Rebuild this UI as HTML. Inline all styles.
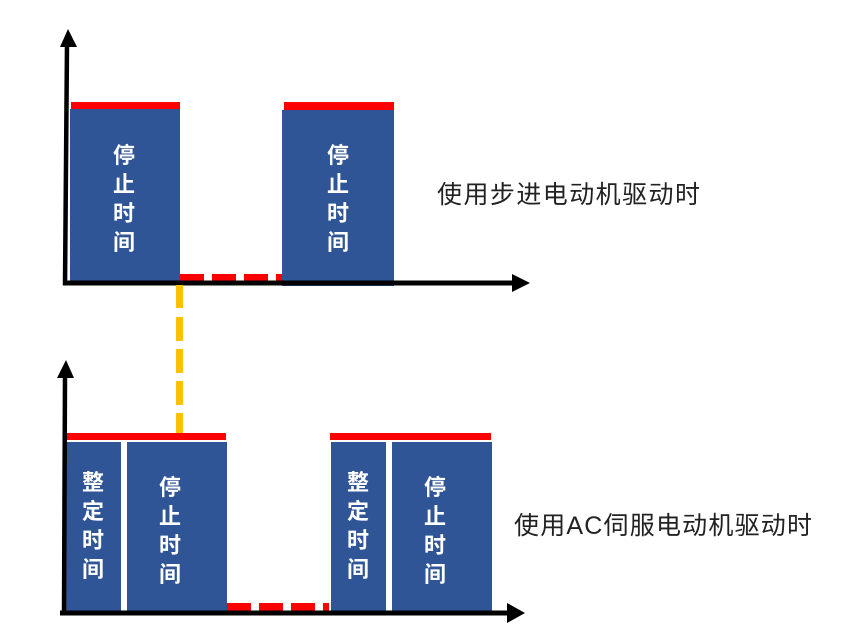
<!DOCTYPE html>
<html><head><meta charset="utf-8"><style>body{margin:0;background:#fff}svg{display:block}</style></head>
<body>
<svg width="868" height="629" xmlns="http://www.w3.org/2000/svg">
<g font-family="'Liberation Sans','Noto Sans CJK SC',sans-serif">
<!-- top chart -->
<rect x="70" y="109" width="110" height="172" fill="#2F5597"/>
<rect x="71" y="102" width="109" height="7" fill="#f00"/>
<rect x="282" y="110" width="112" height="176" fill="#2F5597"/>
<rect x="284" y="102" width="110" height="8" fill="#f00"/>
<g fill="#f00"><rect x="180" y="274" width="24" height="7"/><rect x="212" y="274" width="24" height="7"/><rect x="244" y="274" width="24" height="7"/><rect x="276" y="274" width="6" height="7"/></g>
<line x1="67" y1="44" x2="65" y2="285" stroke="#000" stroke-width="4.5"/>
<polygon points="68,29 60,47 77,47" fill="#000"/>
<line x1="63" y1="283" x2="515" y2="283" stroke="#000" stroke-width="5"/>
<polygon points="530,283 512,274 512,292" fill="#000"/>
<g fill="#fff" font-size="22" font-weight="bold" text-anchor="middle">
<text x="124" y="163">停</text><text x="124" y="192">止</text><text x="124" y="221">时</text><text x="124" y="250">间</text>
<text x="338" y="163">停</text><text x="338" y="192">止</text><text x="338" y="221">时</text><text x="338" y="250">间</text>
</g>
<text x="437" y="203" font-size="25" fill="#222" textLength="263">使用步进电动机驱动时</text>
<!-- yellow dashes -->
<g fill="#FFC000"><rect x="176" y="285" width="7" height="23"/><rect x="176" y="317" width="7" height="24"/><rect x="176" y="349" width="7" height="24"/><rect x="176" y="381" width="7" height="24"/><rect x="176" y="413" width="7" height="20"/></g>
<!-- bottom chart -->
<rect x="67" y="433" width="159" height="7" fill="#f00"/>
<rect x="330" y="433" width="161" height="7" fill="#f00"/>
<g fill="#2F5597">
<rect x="66" y="442" width="55" height="169"/><rect x="127" y="442" width="100" height="169"/>
<rect x="331" y="442" width="55" height="169"/><rect x="392" y="442" width="100" height="169"/>
</g>
<g fill="#f00"><rect x="227" y="603" width="24" height="8"/><rect x="259" y="603" width="24" height="8"/><rect x="291" y="603" width="24" height="8"/><rect x="323" y="603" width="6" height="8"/></g>
<line x1="65" y1="375" x2="64" y2="615" stroke="#000" stroke-width="4.5"/>
<polygon points="66,360 57,378 74,378" fill="#000"/>
<line x1="60" y1="613" x2="510" y2="613" stroke="#000" stroke-width="5"/>
<polygon points="525,613 507,603 507,623" fill="#000"/>
<g fill="#fff" font-size="22" font-weight="bold" text-anchor="middle">
<text x="93" y="490">整</text><text x="93" y="519">定</text><text x="93" y="548">时</text><text x="93" y="577">间</text>
<text x="170" y="495">停</text><text x="170" y="524">止</text><text x="170" y="553">时</text><text x="170" y="582">间</text>
<text x="358" y="490">整</text><text x="358" y="519">定</text><text x="358" y="548">时</text><text x="358" y="577">间</text>
<text x="435" y="495">停</text><text x="435" y="524">止</text><text x="435" y="553">时</text><text x="435" y="582">间</text>
</g>
<text x="514" y="534" font-size="25" fill="#222" textLength="298">使用AC伺服电动机驱动时</text>
</g>
</svg>
</body></html>
